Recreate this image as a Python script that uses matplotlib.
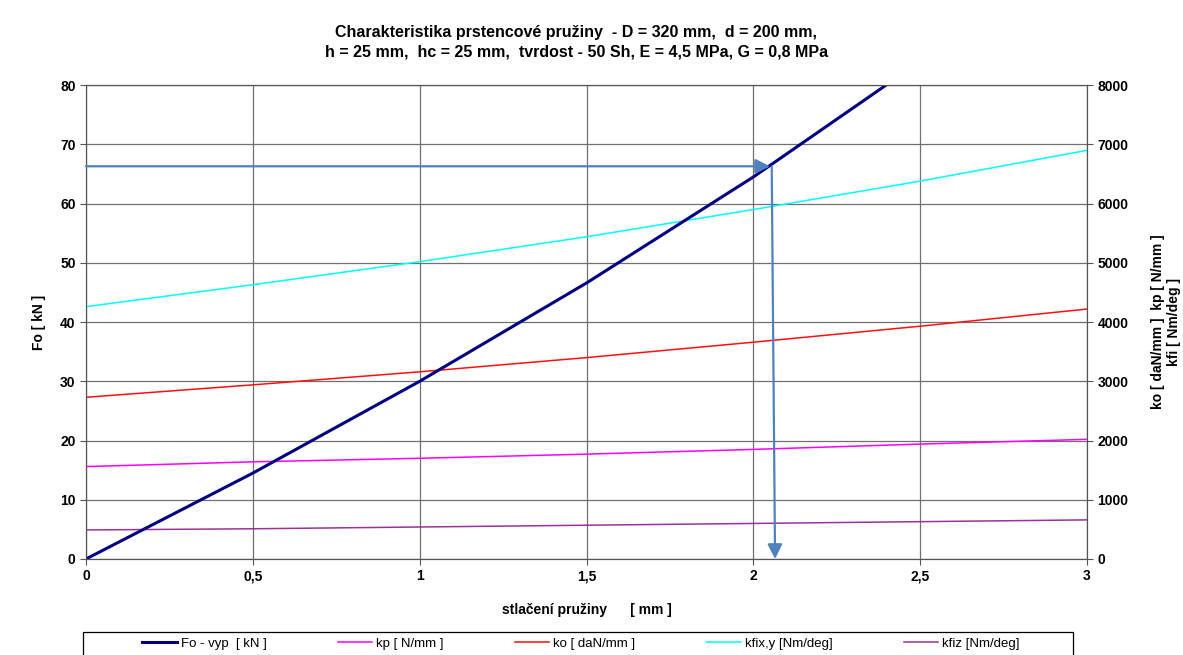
import numpy as np
import matplotlib.pyplot as plt
from matplotlib.patches import Rectangle

plt.rcParams['font.family'] = ['Liberation Sans', 'DejaVu Sans']

# stlačení pružiny [mm]
x = [0, 0.5, 1.0, 1.5, 2.0, 2.5, 3.0]
fo_x = [0, 0.5, 1.0, 1.5, 2.0, 2.5]
fo = [0, 14.5, 30.0, 46.6, 64.5, 84.0]          # Fo - vyp [kN]
kp = [1560, 1640, 1700, 1770, 1850, 1940, 2020]  # N/mm
ko = [2730, 2940, 3160, 3400, 3660, 3930, 4220]  # daN/mm
kfixy = [4260, 4630, 5020, 5440, 5900, 6380, 6900]  # Nm/deg
kfiz = [490, 510, 540, 570, 600, 630, 660]       # Nm/deg

# odečet
read_fo = 66.3
read_x = 2.055

xticks = [0, 0.5, 1, 1.5, 2, 2.5, 3]
xticklabels = ['0', '0,5', '1', '1,5', '2', '2,5', '3']

fig = plt.figure(figsize=(11.83, 6.55), dpi=100)
ax = fig.add_axes([0.0727, 0.1466, 0.8462, 0.7234])
ax2 = ax.twinx()

ax.set_xlim(0, 3)
ax.set_ylim(0, 80)
ax2.set_ylim(0, 8000)
ax.set_xticks(xticks)
ax.set_xticklabels(xticklabels, fontweight='bold', fontsize=10)
ax.set_yticks(range(0, 81, 10))
ax.set_yticklabels([str(v) for v in range(0, 81, 10)], fontweight='bold', fontsize=10)
ax2.set_yticks(range(0, 8001, 1000))
ax2.set_yticklabels([str(v) for v in range(0, 8001, 1000)], fontweight='bold', fontsize=10)

ax.grid(True, color='#707070', linewidth=0.9)
ax.set_axisbelow(True)
for a in (ax, ax2):
    for s in a.spines.values():
        s.set_color('#555555')
    a.tick_params(length=4, color='#555555')

l2, = ax2.plot(x, kp, color='#ff00ff', linewidth=1.1, label='kp [ N/mm ]')
l3, = ax2.plot(x, ko, color='#ff1010', linewidth=1.1, label='ko [ daN/mm ]')
l4, = ax2.plot(x, kfixy, color='#00ffff', linewidth=1.1, label='kfix,y [Nm/deg]')
l5, = ax2.plot(x, kfiz, color='#993399', linewidth=1.1, label='kfiz [Nm/deg]')
l1, = ax2.plot(fo_x, [v * 100 for v in fo], color='#000080', linewidth=2.2, label='Fo - vyp  [ kN ]')

arr = dict(arrowstyle='-|>', color='#4f81bd', lw=1.6, mutation_scale=22, shrinkA=0, shrinkB=0)
ax2.annotate('', xy=(read_x - 0.005, read_fo * 100), xytext=(0, read_fo * 100), arrowprops=arr)
ax2.annotate('', xy=(read_x + 0.01, 0), xytext=(read_x, read_fo * 100), arrowprops=arr)

ax.set_ylabel('Fo [ kN ]', fontweight='bold', fontsize=10, labelpad=10)
ax2.set_ylabel('ko [ daN/mm ]  kp [ N/mm ]\nkfi [ Nm/deg ]', fontweight='bold', fontsize=10, labelpad=16)
ax.set_xlabel('stlačení pružiny      [ mm ]', fontweight='bold', fontsize=10, labelpad=14)
fig.text(0.487, 0.935, 'Charakteristika prstencové pružiny  - D = 320 mm,  d = 200 mm,\n'
         'h = 25 mm,  hc = 25 mm,  tvrdost - 50 Sh, E = 4,5 MPa, G = 0,8 MPa',
         ha='center', va='center', fontweight='bold', fontsize=11.5, linespacing=1.4)

# rámeček legendy
fig.patches.append(Rectangle((0.070, -0.02), 0.837, 0.055, transform=fig.transFigure,
                             facecolor='white', edgecolor='black', linewidth=0.9))
fig.legend(handles=[l1, l2, l3, l4, l5], loc='center',
           bbox_to_anchor=(0.491, 0.017), ncol=5, fontsize=9.5, frameon=False,
           handlelength=2.6, handletextpad=0.3, columnspacing=5.4)

plt.savefig('out.png', dpi=100)
